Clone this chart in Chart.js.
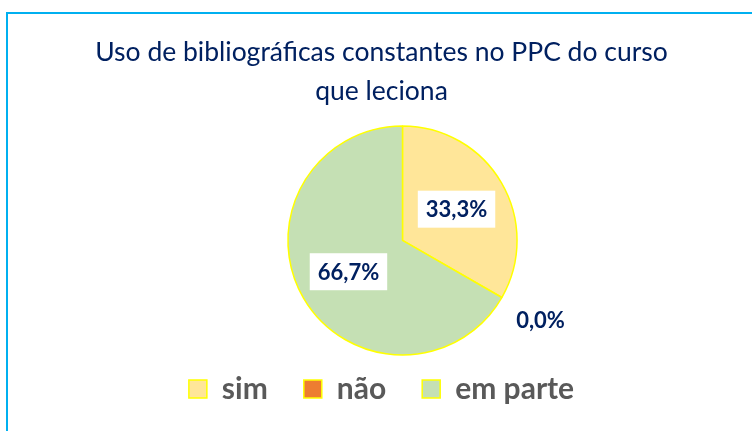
<!DOCTYPE html>
<html lang="pt">
<head>
<meta charset="utf-8">
<title>Uso de bibliográficas constantes no PPC do curso que leciona</title>
<script src="https://cdn.jsdelivr.net/npm/chart.js@4/dist/chart.umd.min.js"></script>
<style>
  html, body { margin: 0; padding: 0; background: #ffffff; overflow: hidden; }
  #frame {
    position: absolute; left: 6px; top: 12px;
    width: 800px; height: 500px;
    border: 2px solid #00B0F0; box-sizing: border-box;
  }
  #chart { position: absolute; left: 0; top: 0; }
</style>
</head>
<body>
<div id="frame"></div>
<canvas id="chart" width="752" height="431"></canvas>
<script>
// Answers (percent of respondents)
const categories = ['sim', 'não', 'em parte'];
const percentages = [33.3, 0.0, 66.7];
const sliceColors = ['#FFE699', '#ED7D31', '#C5E0B4'];
const titleLines = ['Uso de bibliográficas constantes no PPC do curso', 'que leciona'];

const navy = '#002060';

const fmtPct = v => v.toFixed(1).replace('.', ',') + '%';

// Moves the pie area independently of the centred title and legend.
const pieArea = {
  id: 'pieArea',
  afterLayout(chart, args, opts) {
    const a = chart.chartArea;
    a.left += opts.shiftX * 2;
    a.bottom += opts.extendBottom;
    a.width = a.right - a.left;
    a.height = a.bottom - a.top;
  }
};

// Percentage labels: boxed inside non-empty slices, plain outside for empty ones.
const sliceLabels = {
  id: 'sliceLabels',
  afterDatasetsDraw(chart, args, opts) {
    const ctx = chart.ctx;
    const meta = chart.getDatasetMeta(0);
    const values = chart.data.datasets[0].data;
    ctx.save();
    ctx.font = opts.font;
    ctx.textAlign = 'center';
    ctx.textBaseline = 'middle';
    meta.data.forEach((arc, i) => {
      const p = arc.getProps(['x', 'y', 'startAngle', 'endAngle', 'outerRadius'], true);
      const mid = (p.startAngle + p.endAngle) / 2;
      const v = values[i];
      const text = fmtPct(v);
      const r = p.outerRadius * (v > 0 ? opts.insideRatio : opts.outsideRatio);
      const cx = p.x + Math.cos(mid) * r;
      const cy = p.y + Math.sin(mid) * r;
      if (v > 0) {
        const w = ctx.measureText(text).width + opts.padX * 2;
        const h = opts.boxHeight;
        ctx.fillStyle = '#ffffff';
        ctx.fillRect(cx - w / 2, cy - h / 2, w, h);
      }
      ctx.fillStyle = navy;
      ctx.fillText(text, cx, cy + 1);
    });
    ctx.restore();
  }
};

new Chart(document.getElementById('chart'), {
  type: 'pie',
  data: {
    labels: categories,
    datasets: [{
      data: percentages,
      backgroundColor: sliceColors,
      borderColor: '#FFFF00',
      borderWidth: 1.5,
      hoverOffset: 0,
      clip: false
    }]
  },
  options: {
    responsive: false,
    animation: false,
    events: [],
    layout: { padding: { left: 11, right: 0, top: 0, bottom: 17 } },
    plugins: {
      title: {
        display: true,
        text: titleLines,
        color: navy,
        font: { family: 'Lato', size: 26.5, weight: 'normal', lineHeight: 1.47 },
        padding: { top: 33, bottom: 14.25 }
      },
      legend: {
        position: 'bottom',
        labels: {
          color: '#595959',
          font: { family: 'Lato', size: 30, weight: 'bold' },
          boxWidth: 18,
          boxHeight: 18,
          padding: 36
        }
      },
      tooltip: { enabled: false },
      pieArea: { shiftX: 21, extendBottom: 17.75 },
      sliceLabels: {
        font: 'bold 22px Lato',
        insideRatio: 0.545,
        outsideRatio: 1.39,
        padX: 8,
        boxHeight: 37
      }
    }
  },
  plugins: [pieArea, sliceLabels]
});
</script>
</body>
</html>
